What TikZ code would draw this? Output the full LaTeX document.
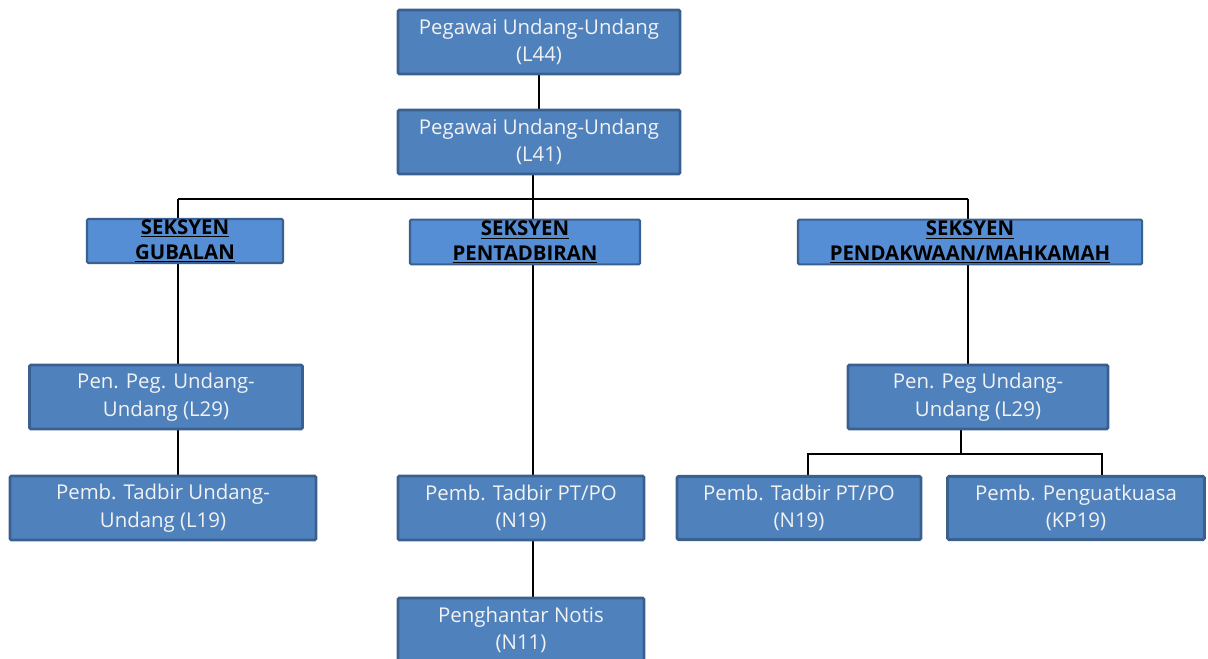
\documentclass[tikz,border=0pt]{standalone}
\usepackage{fontspec}
\setmainfont{Open Sans}
\usetikzlibrary{backgrounds}
\definecolor{boxblue}{HTML}{4F81BD}
\definecolor{boxedge}{HTML}{3A6090}
\definecolor{secblue}{HTML}{558ED5}
\tikzset{
  post/.style={draw=boxedge, line width=2pt, fill=boxblue, rounded corners=1pt,
    text=white!95!black, align=center, inner sep=0pt,
    font=\fontsize{14.5}{19.5}\selectfont},
  seksyen/.style={draw=boxedge, line width=1.5pt, fill=secblue, rounded corners=1pt,
    inner sep=0pt},
  sectext/.style={font=\bfseries\fontsize{14.5}{17.5}\selectfont, align=center, text=black},
  link/.style={draw=black, line width=1.2pt}
}
\begin{document}
\begin{tikzpicture}[x=0.025cm, y=-0.025cm]
  \useasboundingbox (0,0) rectangle (1208,658);
  % top
  \node[post, minimum width=7.05cm, minimum height=1.6cm] (l44) at (539,42)
    {Pegawai Undang-Undang\\(L44)};
  \node[post, minimum width=7.05cm, minimum height=1.6cm] (l41) at (539,142)
    {Pegawai Undang-Undang\\(L41)};
  % seksyen
  \node[seksyen, minimum width=4.9cm, minimum height=1.1cm,
    label={[sectext]center:{\underline{SEKSYEN}\\\underline{GUBALAN}}}] (gub) at (185,241) {};
  \node[seksyen, minimum width=5.75cm, minimum height=1.12cm,
    label={[sectext]center:{\underline{SEKSYEN}\\\underline{PENTADBIRAN}}}] (tadbir) at (525,242) {};
  \node[seksyen, minimum width=8.6cm, minimum height=1.12cm,
    label={[sectext]center:{\underline{SEKSYEN}\\\underline{PENDAKWAAN/MAHKAMAH}}}] (dakwa) at (970,242) {};
  % gubalan
  \node[post, minimum width=6.82cm, minimum height=1.6cm] (lpen) at (166,397)
    {Pen. Peg. Undang-\\Undang (L29)};
  \node[post, minimum width=7.65cm, minimum height=1.6cm] (ltad) at (163,508)
    {Pemb. Tadbir Undang-\\Undang (L19)};
  % pentadbiran
  \node[post, minimum width=6.15cm, minimum height=1.6cm] (mtad) at (521,508)
    {Pemb. Tadbir PT/PO\\(N19)};
  \node[post, minimum width=6.15cm, minimum height=1.6cm] (notis) at (521,630)
    {Penghantar Notis\\(N11)};
  % pendakwaan
  \node[post, minimum width=6.5cm, minimum height=1.6cm] (rpen) at (978,397)
    {Pen. Peg Undang-\\Undang (L29)};
  \node[post, minimum width=6.1cm, minimum height=1.58cm] (rtad) at (799,508)
    {Pemb. Tadbir PT/PO\\(N19)};
  \node[post, minimum width=6.42cm, minimum height=1.58cm] (kuasa) at (1076,508)
    {Pemb. Penguatkuasa\\(KP19)};

  \coordinate (busL) at (178,199);
  \coordinate (busM) at (533,199);
  \coordinate (busR) at (968,199);
  \coordinate (rbus) at (961,454);
  \coordinate (rbusL) at (808,454);
  \coordinate (rbusR) at (1102,454);

  \begin{scope}[on background layer]
    \draw[link] (l44) -- (l41);
    \draw[link] (l41.south -| busM) -- (busM);
    \draw[link] (busL) -- (busR);
    \draw[link] (busL) -- (lpen.north -| busL);
    \draw[link] (lpen.south -| busL) -- (ltad.north -| busL);
    \draw[link] (busM) -- (mtad.north -| busM);
    \draw[link] (mtad.south -| busM) -- (notis.north -| busM);
    \draw[link] (busR) -- (rpen.north -| busR);
    \draw[link] (rpen.south -| rbus) -- (rbus);
    \draw[link] (rtad.north -| rbusL) -- (rbusL) -- (rbusR) -- (kuasa.north -| rbusR);
  \end{scope}
\end{tikzpicture}
\end{document}
